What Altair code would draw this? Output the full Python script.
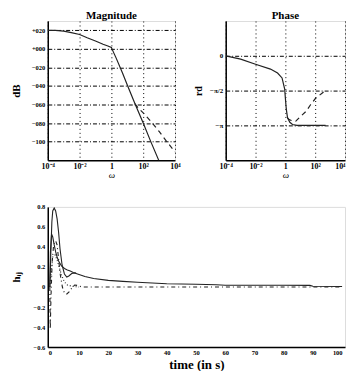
import altair as alt
import pandas as pd
import math

# ---------------- data ----------------
# Magnitude (omega, dB)
mag_w_solid = [1e-4, 3e-4, 1e-3, 3e-3, 1e-2, 3e-2, 0.1, 0.3, 0.6, 1.0, 1.3, 2, 5, 10, 30, 100, 300, 1000, 1300]
mag_db_solid = [20, 19.8, 19, 17.5, 15.5, 12, 8.5, 5, 3, 1.5, -3, -10, -26, -39, -59, -80, -100, -121, -126]
mag_w_dash = [30, 50, 100, 300, 1000, 3000, 10000]
mag_db_dash = [-59, -64, -69, -78, -89, -100, -111]

# Phase (omega, rad)
ph_w_solid = [1e-4, 1e-3, 1e-2, 0.1, 0.3, 0.6, 0.9, 1.0, 1.15, 1.4, 2, 3, 6, 20, 500]
ph_solid = [0, -0.15, -0.38, -0.6, -0.78, -1.0, -1.5, -1.9, -2.4, -2.8, -3.0, -3.1, -3.14, -3.14, -3.14]
ph_w_dash = [1.4, 1.8, 2.5, 5, 10, 25, 50, 100, 250, 500]
ph_dash = [-2.8, -2.88, -2.92, -2.95, -2.75, -2.5, -2.2, -1.94, -1.72, -1.57]

# Impulse responses (time, h_ij)
t_s1 = [0, 0.3, 0.7, 1.0, 1.5, 2.0, 2.5, 3.0, 3.5, 4.2, 5.0, 5.8, 6.5, 7.5, 8.5, 10, 12, 15, 20, 25, 30, 40, 50, 57, 60, 70, 80, 89, 90, 100]
h_s1 = [0, 0.3, 0.65, 0.76, 0.79, 0.76, 0.68, 0.55, 0.38, 0.22, 0.13, 0.10, 0.11, 0.135, 0.14, 0.125, 0.105, 0.085, 0.066, 0.056, 0.047, 0.032, 0.027, 0.022, 0.018, 0.018, 0.017, 0.016, 0.007, 0.005]
t_s2 = [0, 0.2, 0.6, 1.0, 1.5, 2.0, 2.5, 3.0, 4.0, 5.0, 6.0, 7.0, 8.0, 9.0]
h_s2 = [0, 0.35, 0.53, 0.5, 0.42, 0.35, 0.3, 0.26, 0.21, 0.185, 0.17, 0.16, 0.145, 0.14]
t_d1 = [0, 0.15, 0.4, 0.8, 1.3, 2.0, 2.5, 3.0, 3.6, 4.3, 5.0, 5.8, 6.6, 7.5, 8.5, 9.5, 11, 15, 100]
h_d1 = [0, -0.42, -0.1, 0.25, 0.42, 0.46, 0.42, 0.28, 0.12, 0.0, -0.06, -0.07, -0.05, -0.01, 0.02, 0.015, 0.0, 0.0, 0.0]
t_d2 = [0, 0.5, 1.0, 1.8, 2.5, 3.2, 4.0, 5.0, 6.0, 8.0, 10.0]
h_d2 = [0, 0.15, 0.3, 0.32, 0.27, 0.2, 0.12, 0.05, 0.02, 0.005, 0.0]

w_ticks = [1e-4, 1e-2, 1, 1e2, 1e4]
mag_ticks = [20, 0, -20, -40, -60, -80, -100]
ph_ticks = [0, -math.pi / 2, -math.pi]
t_ticks = list(range(0, 101, 10))
h_ticks = [0.8, 0.6, 0.4, 0.2, 0, -0.2, -0.4, -0.6]

FONT = "Liberation Serif"
EXT = 20

w_label_expr = ("datum.value < 0.001 ? '10⁻⁴' : datum.value < 0.1 ? '10⁻²' : "
                "datum.value < 10 ? '1' : datum.value < 1000 ? '10²' : '10⁴'")


def w_axis(right_flush=False):
    kw = {}
    if right_flush:
        kw["labelAlign"] = {"condition": {"test": "datum.value > 1000", "value": "right"},
                            "value": "center"}
    return alt.Axis(values=w_ticks, labelExpr=w_label_expr, title="ω",
                    titleFont=FONT, titleFontStyle="italic", titleFontWeight="normal",
                    titleFontSize=9, titlePadding=0, labelFont=FONT, labelFontSize=8,
                    labelFontWeight="bold", labelPadding=2, tickSize=0, labelFlush=False,
                    labelBound=False,
                    grid=True, gridColor="black", gridDash=[1, 3], gridOpacity=1,
                    domainColor="black", domainWidth=1.5, **kw)


wscale = alt.Scale(type="log", domain=[1e-4, 1e4], nice=False)

# ---------------- magnitude ----------------
xw_m = alt.X("w:Q", scale=wscale, axis=w_axis())
ymag = alt.Y("db:Q", scale=alt.Scale(domain=[-120, 30], nice=False),
             axis=alt.Axis(values=mag_ticks, format="+04d", title="dB", titleFont=FONT,
                           titleFontSize=11, titleFontWeight="bold", titlePadding=6,
                           minExtent=EXT, maxExtent=EXT,
                           labelFont=FONT, labelFontSize=6.5, labelFontWeight="bold",
                           labelPadding=3, tickSize=0, grid=True, gridColor="black",
                           gridDash=[4, 2, 1, 2], gridOpacity=1, domainColor="black",
                           domainWidth=1.5))

df_ms = pd.DataFrame({"w": mag_w_solid, "db": mag_db_solid})
df_md = pd.DataFrame({"w": mag_w_dash, "db": mag_db_dash})
mag = alt.layer(
    alt.Chart(df_ms).mark_line(color="#222", strokeWidth=1.2, clip=True).encode(x=xw_m, y=ymag),
    alt.Chart(df_md).mark_line(color="#222", strokeWidth=1.2, strokeDash=[5, 4], clip=True).encode(x=xw_m, y=ymag),
).properties(width=128, height=140,
             title=alt.Title("Magnitude", font=FONT, fontSize=11, fontWeight="bold", offset=0))

# ---------------- phase ----------------
xw_p = alt.X("w:Q", scale=wscale, axis=w_axis(right_flush=True))
yph = alt.Y("p:Q", scale=alt.Scale(domain=[-1.5 * math.pi, 0.5 * math.pi], nice=False),
            axis=alt.Axis(values=ph_ticks,
                          labelExpr="datum.value > -0.1 ? '0' : datum.value > -2 ? '−π/2' : '−π'",
                          title="rd", titleFont=FONT, titleFontSize=10, titleFontWeight="bold",
                          titlePadding=6, labelFont=FONT, labelFontSize=7, labelFontWeight="bold",
                          labelPadding=3, tickSize=0, grid=True, gridColor="black",
                          gridDash=[4, 2, 1, 2], gridOpacity=1, domainColor="black",
                          domainWidth=1.5))
df_ps = pd.DataFrame({"w": ph_w_solid, "p": ph_solid})
df_pd = pd.DataFrame({"w": ph_w_dash, "p": ph_dash})
phase = alt.layer(
    alt.Chart(df_ps).mark_line(color="#222", strokeWidth=1.2).encode(x=xw_p, y=yph),
    alt.Chart(df_pd).mark_line(color="#222", strokeWidth=1.2, strokeDash=[5, 4]).encode(x=xw_p, y=yph),
).properties(width=120, height=140,
             title=alt.Title("Phase", font=FONT, fontSize=11, fontWeight="bold", offset=0))

# ---------------- time ----------------
xt = alt.X("t:Q", scale=alt.Scale(domain=[-0.7, 101], nice=False),
           axis=alt.Axis(values=t_ticks, title="time (in s)", titleFont=FONT, titleFontSize=13,
                         titleFontWeight="bold", titlePadding=3, labelFont=FONT, labelFontSize=6.5,
                         labelFontWeight="bold", labelPadding=2, tickSize=0, grid=False,
                         labelAlign={"condition": {"test": "datum.value > 99", "value": "right"},
                                     "value": "center"},
                         domainColor="black", domainWidth=1.5))
yt = alt.Y("h:Q", scale=alt.Scale(domain=[-0.6, 0.8], nice=False),
           axis=alt.Axis(values=h_ticks, format="~g", title="hᵢⱼ", titleFont=FONT,
                         titleFontSize=11, titleFontWeight="bold", titlePadding=6,
                         minExtent=EXT, maxExtent=EXT,
                         labelFont=FONT, labelFontSize=6.5, labelFontWeight="bold",
                         labelPadding=3, tickSize=0, grid=False, domainColor="black",
                         domainWidth=1.5))


def tdf(t, h):
    return pd.DataFrame({"t": t, "h": h})


timep = alt.layer(
    alt.Chart(tdf(t_s1, h_s1)).mark_line(color="#222", strokeWidth=1.1).encode(x=xt, y=yt),
    alt.Chart(tdf(t_s2, h_s2)).mark_line(color="#222", strokeWidth=1.1).encode(x=xt, y=yt),
    alt.Chart(tdf(t_d1, h_d1)).mark_line(color="#222", strokeWidth=1.1, strokeDash=[4, 3, 1, 3]).encode(x=xt, y=yt),
    alt.Chart(tdf(t_d2, h_d2)).mark_line(color="#222", strokeWidth=1.1, strokeDash=[1, 2]).encode(x=xt, y=yt),
).properties(width=299, height=141)

top = alt.hconcat(mag, phase, spacing=51, bounds="flush")
chart = alt.vconcat(top, timep, spacing=23).properties(
    padding={"left": 2, "top": 0, "right": 0, "bottom": 0}
).configure_view(stroke="black", strokeWidth=1).configure(background="white")

chart.save("out.html", embed_options={"renderer": "svg", "actions": False})
